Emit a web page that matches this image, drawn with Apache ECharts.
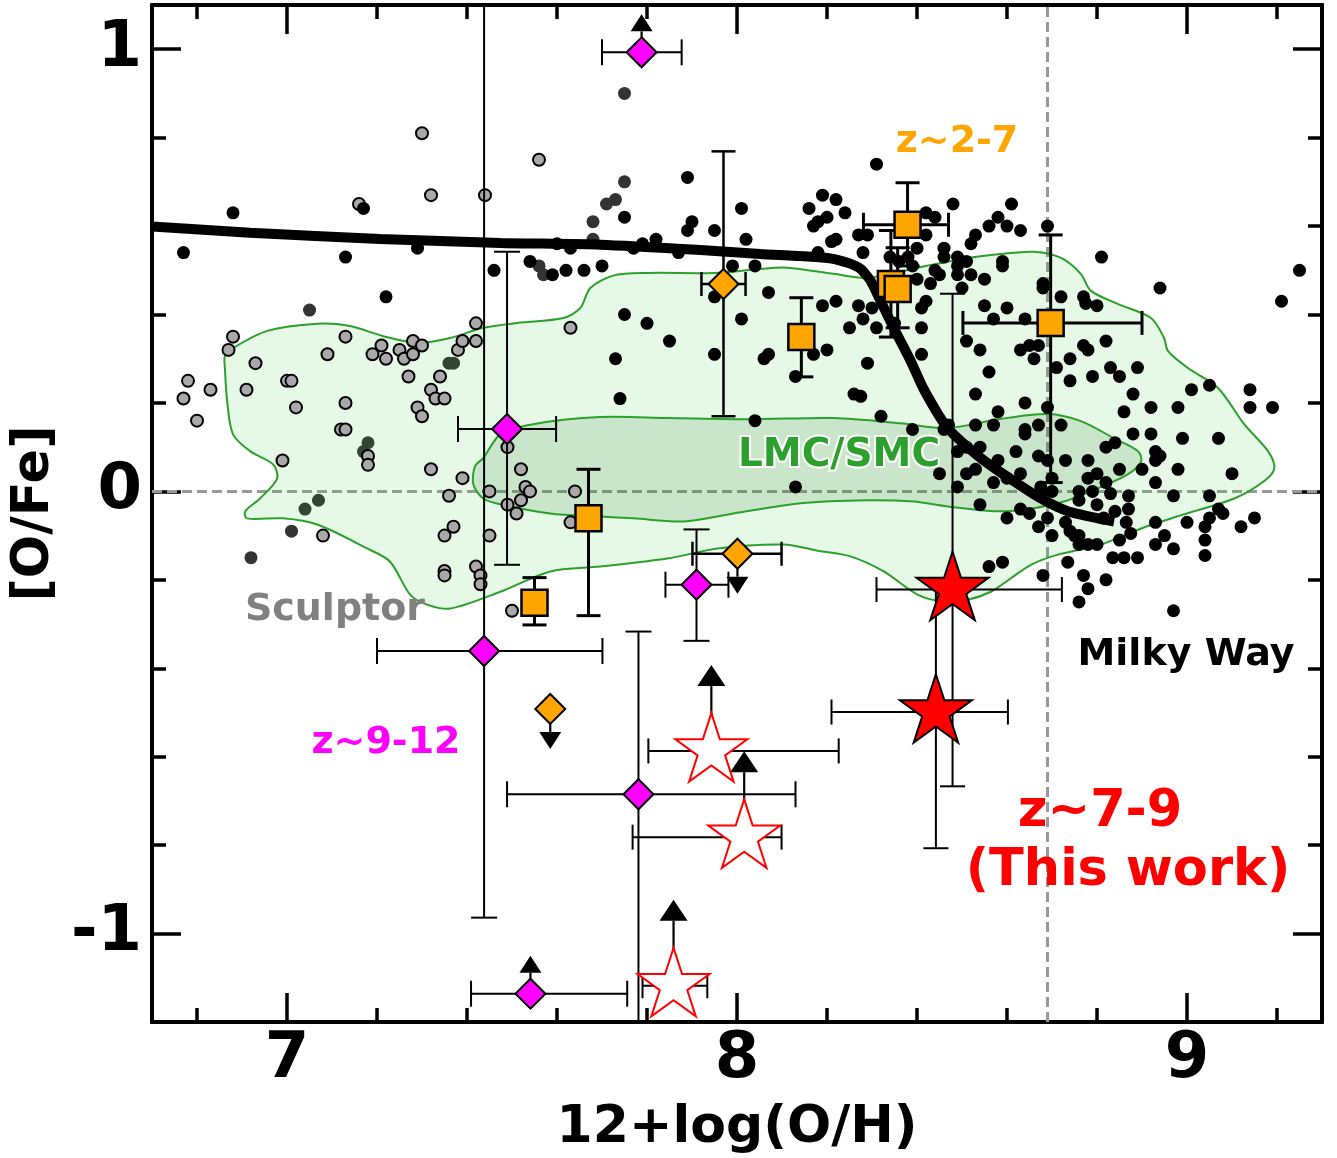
<!DOCTYPE html>
<html><head><meta charset="utf-8">
<script src="https://cdn.jsdelivr.net/npm/echarts@6/dist/echarts.min.js"></script>
<style>html,body{margin:0;padding:0;background:#fff}#c{width:1337px;height:1158px}</style>
</head><body><div id="c"></div>
<script>
// ---------- axis ticks ----------
const xMajorTicks = [7, 8, 9];
const xMinorTicks = [6.8, 7.0, 7.2, 7.4, 7.6, 7.8, 8.0, 8.2, 8.4, 8.6, 8.8, 9.0, 9.2];
const yMajorTicks = [-1, 0, 1];
const yMinorTicks = [-1.0, -0.8, -0.6, -0.4, -0.2, 0.0, 0.2, 0.4, 0.6, 0.8, 1.0];
const solarOH = 8.69;
const solarOFe = 0;

// ---------- Milky Way stars ----------
const milkyWay = [[6.88,0.63],[6.77,0.54],[7.13,0.53],[7.22,0.44],[7.17,0.64],[7.29,0.55],[7.46,0.50],[7.54,0.52],[7.59,0.49],[7.62,0.50],[7.66,0.50],[7.70,0.51],[7.60,0.56],[7.63,0.55],[7.75,0.62],[7.89,0.59],[7.90,0.61],[7.95,0.59],[8.01,0.64],[8.02,0.57],[7.82,0.57],[7.79,0.56],[7.87,0.54],[7.99,0.51],[8.04,0.51],[7.95,0.44],[8.01,0.39],[7.75,0.40],[7.80,0.38],[7.85,0.34],[7.73,0.30],[7.95,0.31],[8.06,0.30],[8.07,0.31],[8.07,0.45],[7.74,0.21],[8.13,0.26],[8.17,0.31],[8.20,0.32],[8.25,0.37],[8.31,0.37],[8.41,0.37],[8.41,0.31],[8.29,0.29],[8.26,0.22],[8.275,0.215],[8.32,0.17],[8.39,0.14],[8.04,0.16],[8.13,0.01],[8.47,0.15],[8.46,0.14],[8.45,0.04],[8.49,0.01],[8.54,-0.03],[8.56,-0.17],[8.59,-0.16],[8.68,-0.19],[7.89,0.71],[8.31,0.74],[7.77,0.55],
[8.19,0.67],[8.22,0.66],[8.16,0.64],[8.24,0.63],[8.20,0.62],[8.18,0.61],[8.17,0.60],[8.22,0.57],[8.21,0.565],[8.27,0.58],[8.29,0.58],[8.28,0.54],[8.18,0.54],[8.48,0.65],[8.42,0.63],[8.44,0.62],[8.42,0.58],[8.40,0.55],[8.46,0.55],[8.46,0.53],[8.61,0.65],[8.58,0.62],[8.56,0.60],[8.60,0.60],[8.63,0.59],[8.69,0.60],[8.53,0.58],[8.52,0.56],[8.49,0.53],[8.51,0.52],[8.59,0.52],[8.59,0.51],[8.34,0.53],[8.36,0.52],[8.38,0.53],[8.39,0.51],[8.44,0.50],[8.45,0.49],[8.49,0.51],[8.49,0.49],[8.52,0.49],[8.50,0.46],[8.55,0.48],[8.43,0.47],[8.40,0.48],[8.68,0.47],[8.68,0.46],[8.19,0.42],[8.22,0.43],[8.27,0.42],[8.28,0.39],[8.30,0.415],[8.41,0.415],[8.42,0.43],[8.55,0.42],[8.60,0.415],[8.57,0.39],[8.64,0.39],[8.51,0.34],[8.54,0.32],[8.63,0.32],[8.65,0.33],[8.67,0.33],[8.66,0.30],[8.35,0.38],
[8.81,0.53],[8.94,0.46],[9.25,0.50],[9.21,0.43],[8.72,0.44],[8.77,0.44],[8.775,0.425],[8.80,0.42],[8.77,0.33],[8.78,0.32],[8.82,0.34],[8.74,0.30],[8.71,0.28],[8.74,0.25],[8.79,0.26],[8.83,0.28],[8.85,0.26],[8.89,0.28],[8.88,0.22],[8.86,0.18],[8.92,0.19],[8.98,0.19],[9.01,0.23],[9.05,0.24],[9.14,0.23],[9.14,0.19],[9.19,0.19],[8.88,0.13],[8.92,0.13],[8.99,0.12],[9.07,0.12],[8.64,0.20],[8.69,0.19],[8.64,0.14],[8.64,0.13],[8.67,0.15],[8.72,0.15],[8.62,0.09],[8.67,0.08],[8.73,0.07],[8.78,0.07],[8.82,0.10],[8.84,0.11],[8.98,0.05],[9.10,0.04],[8.93,0.02],[9.00,-0.07],[9.05,-0.01],[9.07,-0.04],[9.08,-0.05],[9.15,-0.06],[9.12,-0.08],[9.04,-0.08],[9.04,-0.11],[8.93,-0.07],
[8.53,0.22],[8.58,0.18],[8.53,0.15],[8.57,0.15],[8.49,0.09],[8.51,0.10],[8.54,0.10],[8.58,0.07],[8.69,0.07],[8.51,0.04],[8.53,0.05],[8.57,0.02],[8.60,0.03],[8.63,0.04],[8.70,0.03],[8.60,-0.06],[8.63,-0.04],[8.65,-0.05],[8.675,0.01],[8.675,-0.01],[8.70,0.00],[8.67,-0.08],[8.70,-0.10],[8.69,-0.06],[8.73,-0.07],[8.75,-0.10],[8.76,0.00],[8.76,-0.02],[8.78,0.03],[8.80,0.04],[8.79,0.00],[8.82,0.02],[8.85,0.05],[8.83,-0.005],[8.80,-0.03],[8.815,-0.06],[8.84,-0.045],[8.87,-0.01],[8.87,-0.04],[8.865,-0.07],[8.875,-0.095],[8.85,-0.11],[8.76,-0.10],[8.76,-0.12],[8.78,-0.12],[8.80,-0.12],[8.835,-0.15],[8.86,-0.15],[8.89,-0.15],[8.735,-0.16],[8.77,-0.19],[8.78,-0.22],[8.82,-0.20],[8.76,-0.25],[8.93,0.09],[8.94,0.08],[8.93,0.07],[8.90,0.05],[8.97,-0.01],[8.95,-0.10],[8.93,-0.12],[8.97,-0.13],[8.97,-0.27],[8.56,0.27],[8.74,-0.09],[9.04,-0.145],[9.05,-0.06]];

// ---------- Sculptor stars ----------
const sculptor = [[6.88,0.35],[6.87,0.32],[6.78,0.25],[6.83,0.23],[6.77,0.21],[6.80,0.16],[6.93,0.29],[6.91,0.23],[7.00,0.25],[7.01,0.25],[7.02,0.19],[7.09,0.31],[7.13,0.35],[7.13,0.20],[7.12,0.14],[7.13,0.14],[6.99,0.07],[7.08,-0.10],[7.19,0.31],[7.21,0.33],[7.22,0.30],[7.25,0.32],[7.26,0.30],[7.28,0.34],[7.28,0.31],[7.30,0.33],[7.27,0.26],[7.34,0.26],[7.32,0.23],[7.33,0.21],[7.35,0.21],[7.29,0.19],[7.30,0.17],[7.18,0.08],[7.18,0.06],[7.32,0.05],[7.39,0.03],[7.36,-0.01],[7.45,0.00],[7.38,0.32],[7.39,0.34],[7.42,0.34],[7.42,0.38],[7.52,0.05],[7.53,0.01],[7.54,0.00],[7.52,-0.02],[7.49,-0.03],[7.51,-0.05],[7.49,0.10],[7.64,0.00],[7.63,-0.07],[7.63,0.37],[7.37,-0.08],[7.35,-0.10],[7.45,-0.10],[7.35,-0.18],[7.35,-0.19],[7.42,-0.17],[7.43,-0.19],[7.43,-0.21],[7.50,-0.27],[7.30,0.81],[7.32,0.67],[7.44,0.67],[7.56,0.75],[7.16,0.65]];

// ---------- other dwarf stars (dark) ----------
const darkStars = [[7.75,0.90],[7.75,0.70],[7.73,0.66],[7.71,0.65],[7.68,0.61],[7.68,0.57],[7.56,0.51],[7.57,0.49],[7.05,0.41],[7.36,0.29],[7.37,0.29],[7.18,0.11],[7.17,0.09],[7.07,-0.02],[7.04,-0.04],[7.01,-0.09],[6.92,-0.15]];

// ---------- LMC/SMC contours ----------
const outerContour = [[6.862,0.306],[6.880,0.324],[6.956,0.363],[7.067,0.379],[7.140,0.374],[7.214,0.351],[7.289,0.336],[7.363,0.347],[7.436,0.370],[7.512,0.381],[7.614,0.392],[7.652,0.415],[7.674,0.460],[7.725,0.488],[7.801,0.494],[7.948,0.494],[8.052,0.503],[8.112,0.506],[8.215,0.492],[8.290,0.483],[8.402,0.506],[8.513,0.528],[8.586,0.537],[8.660,0.542],[8.720,0.528],[8.764,0.492],[8.786,0.454],[8.846,0.424],[8.920,0.392],[8.949,0.347],[8.958,0.317],[9.002,0.279],[9.069,0.234],[9.127,0.152],[9.180,0.091],[9.194,0.052],[9.171,0.023],[9.105,-0.016],[8.993,-0.052],[8.898,-0.084],[8.809,-0.120],[8.713,-0.143],[8.653,-0.166],[8.608,-0.197],[8.564,-0.227],[8.513,-0.245],[8.459,-0.249],[8.402,-0.234],[8.326,-0.181],[8.252,-0.147],[8.179,-0.134],[8.103,-0.120],[7.957,-0.129],[7.845,-0.152],[7.696,-0.170],[7.585,-0.181],[7.474,-0.227],[7.363,-0.265],[7.311,-0.256],[7.274,-0.234],[7.229,-0.159],[7.178,-0.129],[7.067,-0.075],[6.991,-0.061],[6.911,-0.061],[6.907,-0.045],[6.940,-0.016],[6.978,0.029],[6.969,0.061],[6.918,0.091],[6.880,0.129],[6.867,0.204],[6.862,0.279]];
const innerContour = [[7.414,0.016],[7.418,0.057],[7.436,0.075],[7.474,0.129],[7.547,0.152],[7.696,0.168],[7.845,0.166],[8.030,0.163],[8.215,0.166],[8.364,0.154],[8.468,0.143],[8.580,0.163],[8.691,0.175],[8.764,0.159],[8.838,0.120],[8.891,0.091],[8.898,0.068],[8.869,0.039],[8.802,0.007],[8.726,-0.023],[8.653,-0.039],[8.580,-0.045],[8.468,-0.034],[8.393,-0.023],[8.290,-0.020],[8.141,-0.027],[7.992,-0.050],[7.881,-0.068],[7.770,-0.061],[7.696,-0.057],[7.585,-0.050],[7.474,-0.029],[7.436,-0.016]];

// ---------- chemical evolution model ----------
const modelLine = [[6.700,0.599],[6.918,0.585],[7.207,0.571],[7.474,0.562],[7.696,0.558],[7.919,0.546],[8.052,0.537],[8.201,0.528],[8.246,0.517],[8.275,0.503],[8.297,0.476],[8.319,0.431],[8.348,0.370],[8.386,0.295],[8.415,0.231],[8.468,0.143],[8.542,0.075],[8.615,0.023],[8.675,-0.016],[8.735,-0.045],[8.802,-0.061],[8.838,-0.068]];

// ---------- z~9-12 (magenta diamonds) ----------
const magX   = [7.788, 7.489, 7.438, 7.910, 7.781, 7.541];
const magY   = [0.993, 0.141, -0.361, -0.211, -0.685, -1.136];
const magXLo = [7.700, 7.380, 7.200, 7.841, 7.489, 7.409];
const magXHi = [7.877, 7.598, 7.701, 7.981, 8.130, 7.756];
const magYLo = [null, -0.166, -0.964, -0.338, -1.30, null];
const magYHi = [null, 0.542, 1.30, -0.086, -0.317, null];
const magLim = [1, 0, 0, 0, 0, 1];

// ---------- z~2-7 (orange squares) ----------
const sqX   = [8.379, 8.342, 8.357, 8.143, 8.697, 7.670, 7.550];
const sqY   = [0.603, 0.469, 0.458, 0.349, 0.381, -0.061, -0.252];
const sqXLo = [8.281, null, null, null, 8.502, null, null];
const sqXHi = [8.470, null, null, null, 8.900, null, null];
const sqYLo = [0.51, 0.349, 0.370, 0.259, 0.02, -0.281, -0.302];
const sqYHi = [0.698, 0.590, 0.551, 0.438, 0.580, 0.050, -0.195];
const sqLim = [0, 0, 0, 0, 0, 0, 0];

// ---------- z~2-7 (orange diamonds) ----------
const odX   = [7.970, 8.001, 7.585];
const odY   = [0.469, -0.141, -0.492];
const odXLo = [7.921, 7.901, null];
const odXHi = [8.019, 8.099, null];
const odYLo = [0.170, null, null];
const odYHi = [0.769, null, null];
const odLim = [0, -1, -1];

// ---------- z~7-9 this work (filled stars) ----------
const rsX   = [8.479, 8.442];
const rsY   = [-0.222, -0.499];
const rsXLo = [8.310, 8.210];
const rsXHi = [8.722, 8.602];
const rsYLo = [-0.667, -0.807];
const rsYHi = [0.447, -0.20];
const rsLim = [0, 0];

// ---------- z~7-9 this work (open stars, lower limits) ----------
const osX   = [7.943, 8.016, 7.859];
const osY   = [-0.587, -0.782, -1.118];
const osXLo = [7.803, 7.768, 7.790];
const osXHi = [8.226, 8.099, 7.934];
const osYLo = [null, null, null];
const osYHi = [null, null, null];
const osLim = [1, 1, 1];

const STAR = 'path://M100,0 L122.45,69.1 L195.1,69.1 L136.33,111.8 L158.8,180.9 L100,138.2 L41.2,180.9 L63.67,111.8 L4.9,69.1 L77.55,69.1 Z';
const FONT = '"DejaVu Sans", sans-serif';

function seg(x1, y1, x2, y2, w) {
  return { type: 'line', shape: { x1, y1, x2, y2 }, style: { stroke: '#000', lineWidth: w } };
}
function errSeries(X, Y, XLO, XHI, YLO, YHI, LIM, o) {
  return {
    type: 'custom', z: 7, clip: true,
    data: X.map((x, i) => [x, Y[i]]),
    encode: { x: 0, y: 1 },
    renderItem: function (params, api) {
      const i = params.dataIndex;
      const c = api.coord([X[i], Y[i]]);
      const ch = [];
      const w = o.lw, cap = o.cap;
      if (XLO[i] != null) {
        const a = api.coord([XLO[i], Y[i]]), b = api.coord([XHI[i], Y[i]]);
        ch.push(seg(a[0], a[1], b[0], b[1], w), seg(a[0], a[1] - cap, a[0], a[1] + cap, w), seg(b[0], b[1] - cap, b[0], b[1] + cap, w));
      }
      if (YLO[i] != null) {
        const a = api.coord([X[i], YLO[i]]), b = api.coord([X[i], YHI[i]]);
        ch.push(seg(a[0], a[1], b[0], b[1], w), seg(a[0] - cap, a[1], a[0] + cap, a[1], w), seg(b[0] - cap, b[1], b[0] + cap, b[1], w));
      }
      if (LIM[i]) {
        const dir = LIM[i] > 0 ? -1 : 1;
        const tip = c[1] + dir * o.alen;
        const base = tip - dir * o.ah;
        ch.push(seg(c[0], c[1], c[0], base, 2.2));
        ch.push({ type: 'polygon', shape: { points: [[c[0] - o.aw, base], [c[0] + o.aw, base], [c[0], tip]] }, style: { fill: '#000' } });
      }
      return { type: 'group', children: ch };
    }
  };
}
function contourSeries(poly, fill, z) {
  return {
    type: 'custom', z: z, clip: true,
    data: poly, encode: { x: 0, y: 1 },
    renderItem: function (params, api) {
      if (params.dataIndex !== 0) return null;
      return {
        type: 'polygon',
        shape: { points: poly.map(p => api.coord(p)), smooth: 0.3 },
        style: { fill: fill, stroke: '#2ca02c', lineWidth: 2 }
      };
    }
  };
}
function xAx(pos, vals, len, label) {
  return {
    type: 'value', min: 6.7, max: 9.3, position: pos, gridIndex: 0,
    axisLine: { show: true, onZero: false, lineStyle: { color: '#000', width: 4 } },
    axisTick: { show: true, inside: true, length: len, customValues: vals, lineStyle: { color: '#000', width: 3.5 } },
    axisLabel: { show: label, customValues: vals, color: '#000', fontSize: 64, fontWeight: 'bold', fontFamily: FONT, margin: 6 },
    splitLine: { show: false }
  };
}
function yAx(pos, vals, len, label) {
  return {
    type: 'value', min: -1.2, max: 1.1, position: pos, gridIndex: 0,
    axisLine: { show: true, onZero: false, lineStyle: { color: '#000', width: 4 } },
    axisTick: { show: true, inside: true, length: len, customValues: vals, lineStyle: { color: '#000', width: 3.5 } },
    axisLabel: { show: label, customValues: vals, color: '#000', fontSize: 64, fontWeight: 'bold', fontFamily: FONT, margin: 10 },
    splitLine: { show: false }
  };
}

const xAxes = [xAx('bottom', xMajorTicks, 29, true), xAx('bottom', xMinorTicks, 14, false), xAx('top', xMajorTicks, 29, false), xAx('top', xMinorTicks, 14, false)];
Object.assign(xAxes[0], { name: '12+log(O/H)', nameLocation: 'middle', nameGap: 80, nameTextStyle: { color: '#000', fontSize: 52, fontWeight: 'bold', fontFamily: FONT } });
const yAxes = [yAx('left', yMajorTicks, 29, true), yAx('left', yMinorTicks, 14, false), yAx('right', yMajorTicks, 29, false), yAx('right', yMinorTicks, 14, false)];
Object.assign(yAxes[0], { name: '[O/Fe]', nameLocation: 'middle', nameGap: 89, nameTextStyle: { color: '#000', fontSize: 51, fontWeight: 'bold', fontFamily: FONT } });

function txt(t, x, y, size, color, extra) {
  return { type: 'text', z: 100, style: Object.assign({ text: t, x: x, y: y, font: 'bold ' + size + 'px ' + FONT, fill: color, textAlign: 'center', textVerticalAlign: 'middle' }, extra || {}) };
}

const chart = echarts.init(document.getElementById('c'), null, { renderer: 'canvas' });
chart.setOption({
  animation: false,
  backgroundColor: '#fff',
  grid: { left: 152, top: 5, width: 1170, height: 1017, containLabel: false, outerBoundsMode: 'none' },
  xAxis: xAxes,
  yAxis: yAxes,
  series: [
    { type: 'line', z: 1, data: [[6.7, solarOFe], [9.3, solarOFe]], showSymbol: false, lineStyle: { color: '#999', width: 3, type: [10, 5] } },
    { type: 'line', z: 1, data: [[solarOH, -1.2], [solarOH, 1.1]], showSymbol: false, lineStyle: { color: '#999', width: 3, type: [10, 5] } },
    { type: 'scatter', z: 2, data: darkStars, symbolSize: 13, itemStyle: { color: '#333', opacity: 1 } },
    contourSeries(outerContour, 'rgba(50,205,50,0.12)', 3),
    contourSeries(innerContour, 'rgba(0,100,0,0.12)', 3),
    { type: 'scatter', z: 4, data: sculptor, symbolSize: 12, itemStyle: { color: '#a9a9a9', borderColor: '#000', borderWidth: 2, opacity: 1 } },
    { type: 'scatter', z: 5, data: milkyWay, symbolSize: 13, itemStyle: { color: '#000', opacity: 1 } },
    { type: 'line', z: 6, data: modelLine, showSymbol: false, smooth: 0.2, lineStyle: { color: '#000', width: 10 } },
    errSeries(magX, magY, magXLo, magXHi, magYLo, magYHi, magLim, { lw: 2, cap: 13, alen: 38, aw: 11, ah: 17 }),
    errSeries(sqX, sqY, sqXLo, sqXHi, sqYLo, sqYHi, sqLim, { lw: 3, cap: 12, alen: 40, aw: 11, ah: 17 }),
    errSeries(odX, odY, odXLo, odXHi, odYLo, odYHi, odLim, { lw: 2.5, cap: 12, alen: 40, aw: 11, ah: 17 }),
    errSeries(rsX, rsY, rsXLo, rsXHi, rsYLo, rsYHi, rsLim, { lw: 2, cap: 12.5, alen: 86, aw: 14, ah: 21 }),
    errSeries(osX, osY, osXLo, osXHi, osYLo, osYHi, osLim, { lw: 2, cap: 12.5, alen: 86, aw: 14, ah: 21 }),
    { type: 'scatter', z: 8, data: magX.map((x, i) => [x, magY[i]]), symbol: 'diamond', symbolSize: [30, 30], itemStyle: { color: '#ff00ff', borderColor: '#000', borderWidth: 2, opacity: 1 } },
    { type: 'scatter', z: 8, data: sqX.map((x, i) => [x, sqY[i]]), symbol: 'rect', symbolSize: 26, itemStyle: { color: '#ffa500', borderColor: '#000', borderWidth: 2.5, opacity: 1 } },
    { type: 'scatter', z: 8, data: odX.map((x, i) => [x, odY[i]]), symbol: 'diamond', symbolSize: [30, 30], itemStyle: { color: '#ffa500', borderColor: '#000', borderWidth: 2, opacity: 1 } },
    { type: 'scatter', z: 9, data: osX.map((x, i) => [x, osY[i]]), symbol: STAR, symbolKeepAspect: true, symbolSize: 72, symbolOffset: [0, -3.6], itemStyle: { color: '#fff', borderColor: '#ff0000', borderWidth: 2, opacity: 1 } },
    { type: 'scatter', z: 9, data: rsX.map((x, i) => [x, rsY[i]]), symbol: STAR, symbolKeepAspect: true, symbolSize: 72, symbolOffset: [0, -3.6], itemStyle: { color: '#ff0000', borderColor: '#000', borderWidth: 2, opacity: 1 } }
  ],
  graphic: [
    txt('z~2-7', 957, 142, 38, '#ffa500'),
    txt('LMC/SMC', 839, 456, 39, '#2ca02c', { stroke: '#fff', lineWidth: 4, strokeFirst: true }),
    txt('Sculptor', 335, 610, 38, '#808080'),
    txt('Milky Way', 1186, 655, 38, '#000'),
    txt('z~9-12', 386, 743, 38, '#ff00ff'),
    txt('z~7-9', 1100, 813, 51, '#ff0000'),
    txt('(This work)', 1128, 872, 51, '#ff0000')
  ]
});
</script>
</body></html>
